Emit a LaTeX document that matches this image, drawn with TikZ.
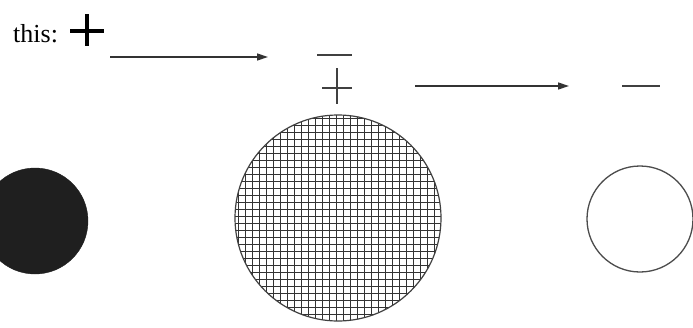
\documentclass[tikz,border=0pt]{standalone}
\usepackage{fontspec}
\setmainfont{Liberation Serif}
\usetikzlibrary{arrows.meta}
\begin{document}
\begin{tikzpicture}[x=1pt,y=-1pt,
  sign/.style={line width=1.2pt, draw=black!75},
  bigsign/.style={line width=3.6pt},
  hatch/.style={line width=0.9pt, draw=black!80},
  conn/.style={line width=1.4pt, draw=black!80, -{Triangle[length=11pt,width=7pt]}},
  disk/.style={circle, inner sep=0pt, minimum size=#1}]
\useasboundingbox (0,0) rectangle (693,327);
% label
\node[anchor=base west, inner sep=0pt, font=\fontsize{26}{28}\selectfont] (lbl) at (13,42) {this:};
\draw[bigsign] (70,31) -- (104,31);
\draw[bigsign] (87,14) -- (87,46);
% first arrow
\coordinate (a1s) at (110,57);
\coordinate (a1e) at (268,57);
\draw[conn] (a1s) -- (a1e);
% minus and plus in the middle
\draw[sign] (317,55) -- (352,55);
\draw[sign] (322,88) -- (352,88);
\draw[sign] (337,68) -- (337,104);
% second arrow
\coordinate (a2s) at (415,86);
\coordinate (a2e) at (569,86);
\draw[conn] (a2s) -- (a2e);
% right minus
\draw[sign] (622,86) -- (660,86);
% disks
\node[disk=106pt, fill=black!88, draw=black!88] (d1) at (35,221) {};
\begin{scope}
  \clip (338,218) circle (103);
  \foreach \k in {0,...,31} {
    \draw[hatch] (231+7*\k,110) -- (231+7*\k,330);
    \draw[hatch] (230,111+7*\k) -- (450,111+7*\k);
  }
\end{scope}
\node[disk=206pt, draw=black!75, line width=1.2pt] (d2) at (338,218) {};
\node[disk=106pt, draw=black!70, line width=1.3pt] (d3) at (640,219) {};
\end{tikzpicture}
\end{document}
